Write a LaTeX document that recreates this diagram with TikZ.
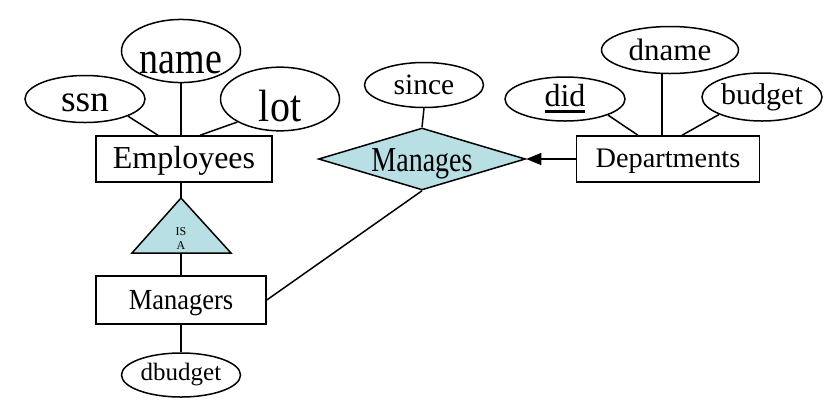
\documentclass[tikz,border=0pt]{standalone}
\usepackage{fontspec}
\usepackage{graphicx}
\setmainfont{Liberation Serif}
\usetikzlibrary{shapes.geometric,arrows.meta}
\definecolor{relblue}{RGB}{184,224,228}
\newcommand{\keyattr}[1]{\setbox0\hbox{#1}\rlap{\rule[-6.5pt]{\wd0}{3pt}}\box0}
\newcommand{\tallword}[2]{\scalebox{1}[#1]{#2}}

\begin{document}
\begin{tikzpicture}[x=1pt,y=-1pt,line width=1.5pt,
	every node/.style={black},
	attr/.style={draw,ellipse,inner sep=0pt,minimum width=119pt,minimum height=47pt},
	entity/.style={draw,rectangle,inner sep=0pt,minimum height=46pt},
	fs/.style={font=\fontsize{#1}{#1}\selectfont},
	drop/.style={text height=#1,text depth=0pt}]
	\useasboundingbox (0,0) rectangle (832,408);

	\node[entity,minimum width=176pt,fs=32,drop=18.6pt] (emp) at (184,159) {Employees};
	\node[attr,minimum width=120pt,fs=37.5,drop=24pt] (ssn) at (85,99) {ssn};
	\node[attr,minimum height=48pt,fs=38,drop=44.6pt] (name) at (181,51) {\tallword{1.2}{name}};
	\node[attr,fs=40,drop=45pt] (lot) at (280,99) {\tallword{1.13}{lot}};

	\coordinate (isa0) at (181,198);
	\coordinate (isa1) at (132,253);
	\coordinate (isa2) at (231,253);
	\filldraw[fill=relblue] (isa0) -- (isa1) -- (isa2) -- cycle;
	\node[align=center,font=\fontsize{12}{14}\selectfont] (isa) at (181,239) {IS\\A};

	\node[entity,minimum width=170pt,minimum height=48pt,fs=26.5,drop=18.6pt] (mgr) at (181,300) {\tallword{1.1}{Managers}};
	\node[attr,minimum height=44pt,fs=25] (dbudget) at (181,375) {dbudget};

	\node[draw,diamond,fill=relblue,aspect=3.34,inner sep=0pt,minimum width=207pt,minimum height=62pt,fs=28,drop=25.4pt] (manages) at (422,159) {\tallword{1.25}{Manages}};
	\node[attr,minimum height=45pt,fs=29.5] (since) at (424,85) {since};

	\node[entity,minimum width=183pt,fs=28.3,drop=16.6pt] (dept) at (668,159) {Departments};
	\node[attr,minimum width=120pt,minimum height=44pt,fs=32] (did) at (565,99) {\keyattr{did}};
	\node[attr,minimum width=137pt,fs=31] (dname) at (670,50) {dname};
	\node[attr,minimum width=120pt,minimum height=48pt,fs=30] (budget) at (762,97) {budget};

	\draw (ssn.south east) -- ([xshift=-26pt]emp.north);
	\draw (name.south) -- (name.south |- emp.north);
	\draw (lot.south west) -- ([xshift=16pt]emp.north);
	\draw (isa0 |- emp.south) -- (isa0);
	\draw (mgr.north |- isa1) -- (mgr.north);
	\draw (mgr.south) -- (dbudget.north);
	\draw (mgr.east) -- (manages.south);
	\draw (since.south) -- (manages.north);
	\draw[-{Triangle[length=15pt,width=12pt]}] (dept.west) -- (manages.east);
	\draw (did.south east) -- ([xshift=-30pt]dept.north);
	\draw ([xshift=-6pt]dept.north |- dname.south) -- ([xshift=-6pt]dept.north);
	\draw (budget.south west) -- ([xshift=14pt]dept.north);
\end{tikzpicture}
\end{document}
